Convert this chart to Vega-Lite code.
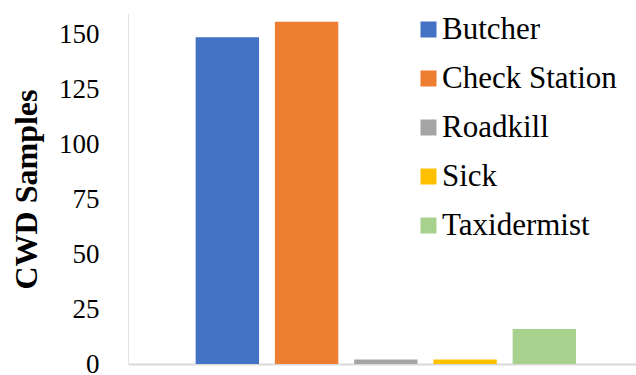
{
  "$schema": "https://vega.github.io/schema/vega-lite/v6.json",
  "width": 508,
  "height": 351,
  "autosize": "none",
  "padding": {"left": 128, "top": 13, "right": 0, "bottom": 11},
  "background": "white",
  "config": {"view": {"stroke": null}, "font": "Liberation Serif"},
  "data": {"values": [
    {"source": "Butcher", "samples": 149},
    {"source": "Check Station", "samples": 156},
    {"source": "Roadkill", "samples": 2},
    {"source": "Sick", "samples": 2},
    {"source": "Taxidermist", "samples": 16}
  ]},
  "mark": {"type": "bar"},
  "encoding": {
    "x": {
      "field": "source", "type": "nominal",
      "scale": {"paddingInner": 0.2, "paddingOuter": 0.805, "align": 0.53},
      "axis": {"labels": false, "ticks": false, "title": null, "domainColor": "#d9d9d9", "domainWidth": 2}
    },
    "y": {
      "field": "samples", "type": "quantitative",
      "scale": {"domain": [0, 160], "nice": false},
      "axis": {
        "values": [0, 25, 50, 75, 100, 125, 150],
        "grid": false, "ticks": false,
        "domainColor": "#e3e3e3", "domainWidth": 1,
        "labelFont": "Liberation Serif", "labelFontSize": 27, "labelColor": "#000000",
        "labelPadding": 29,
        "title": "CWD Samples",
        "titleFont": "Liberation Serif", "titleFontSize": 32, "titleFontWeight": "bold", "titleColor": "#000000",
        "titleX": -102, "titleY": 176, "titleAngle": -90, "titleAlign": "center", "titleBaseline": "middle"
      }
    },
    "color": {
      "field": "source", "type": "nominal",
      "scale": {
        "domain": ["Butcher", "Check Station", "Roadkill", "Sick", "Taxidermist"],
        "range": ["#4472C4", "#ED7D31", "#A5A5A5", "#FFC000", "#A9D18E"]
      },
      "legend": {
        "orient": "none", "legendX": 285, "legendY": 1,
        "title": null, "symbolType": "square", "symbolSize": 256,
        "symbolStrokeWidth": 0,
        "labelFont": "Liberation Serif", "labelFontSize": 31, "labelColor": "#000000",
        "labelOffset": -2, "rowPadding": 17, "labelLimit": 300
      }
    }
  }
}
